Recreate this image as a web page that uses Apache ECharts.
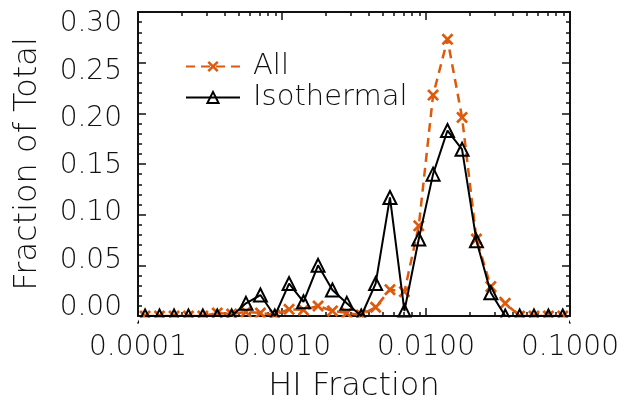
<!DOCTYPE html>
<html>
<head>
<meta charset="utf-8">
<script src="https://cdn.jsdelivr.net/npm/echarts@6/dist/echarts.min.js"></script>
<style>
  html, body { margin: 0; padding: 0; background: #fff; }
  #chart { width: 625px; height: 401px; }
</style>
</head>
<body>
<div id="chart"></div>
<script>
// bin centres of the HI fraction histogram (0.1 dex bins)
var hiFraction = [0.000112, 0.000141, 0.000178, 0.000224, 0.000282, 0.000355, 0.000447, 0.000562, 0.000708, 0.000891,
  0.00112, 0.00141, 0.00178, 0.00224, 0.00282, 0.00355, 0.00447, 0.00562, 0.00708, 0.00891,
  0.0112, 0.0141, 0.0178, 0.0224, 0.0282, 0.0355, 0.0447, 0.0562, 0.0708, 0.0891]
// fraction of total, all gas
var allFrac = [0, 0, 0, 0, 0, 0.003, 0.002, 0.004, 0.003, 0.001,
  0.0066, 0.006, 0.0099, 0.005, 0.003, 0.001, 0.0086, 0.026, 0.024, 0.089,
  0.218, 0.273, 0.196, 0.076, 0.029, 0.0125, 0, 0, 0, 0]
// fraction of total, isothermal gas
var isoFrac = [0, 0, 0, 0, 0, 0, 0, 0.0125, 0.0207, 0,
  0.032, 0.014, 0.050, 0.0257, 0.0125, 0, 0.032, 0.117, 0.005, 0.076,
  0.140, 0.183, 0.1645, 0.0743, 0.023, 0, 0, 0, 0, 0]
var yTickLabels = [0, 0.05, 0.10, 0.15, 0.20, 0.25, 0.30]
var seriesNames = ['All', 'Isothermal']

var ORANGE = '#dc5a0d'
var FONT = 'DejaVu Sans'
var crossPath = 'path://M1.6,0 L5,3.4 L8.4,0 L10,1.6 L6.6,5 L10,8.4 L8.4,10 L5,6.6 L1.6,10 L0,8.4 L3.4,5 L0,1.6 Z'

// minor ticks of the log axis, in log10 space
var minorLog = []
for (var d = -4; d < -1; d++) {
  for (var m = 2; m <= 9; m++) minorLog.push(d + Math.log10(m))
}

function pairs (ys) {
  return ys.map(function (v, i) { return [hiFraction[i], v] })
}

var chart = echarts.init(document.getElementById('chart'), null, { renderer: 'canvas' })

function txt (size) {
  return { fontFamily: FONT, fontWeight: 200, fontSize: size, color: '#111' }
}
var axisLine = { show: true, onZero: false, lineStyle: { color: '#111', width: 2 } }
var noLine = { show: false, onZero: false }
var majorX = { show: true, inside: true, length: 8, lineStyle: { color: '#111', width: 1.5 } }
var minorX = { show: true, inside: true, length: 4, customValues: minorLog, lineStyle: { color: '#111', width: 1.5 } }
var majorY = { show: true, inside: true, length: 8, lineStyle: { color: '#111', width: 1.5 } }
var minorY = { show: true, splitNumber: 5, length: 4, lineStyle: { color: '#111', width: 1.5 } }

chart.setOption({
  animation: false,
  backgroundColor: '#fff',
  grid: { left: 138, right: 55, top: 12, bottom: 85, outerBoundsMode: 'none', containLabel: false },
  legend: {
    orient: 'vertical',
    left: 180,
    top: 47,
    itemWidth: 54,
    itemHeight: 14,
    itemGap: 2,
    data: seriesNames,
    textStyle: Object.assign(txt(29), { lineHeight: 28, padding: [0, 0, 0, 8] })
  },
  xAxis: [
    {
      type: 'log', position: 'bottom', min: 0.0001, max: 0.1, logBase: 10,
      axisLine: axisLine, axisTick: majorX, splitLine: { show: false },
      axisLabel: Object.assign({ margin: 18, formatter: function (v) { return v.toFixed(4) } }, txt(28)),
      name: 'HI Fraction', nameLocation: 'middle', nameGap: 55,
      nameTextStyle: txt(32)
    },
    {
      type: 'value', position: 'bottom', min: -4, max: -1,
      axisLine: noLine, axisTick: minorX, axisLabel: { show: false }, splitLine: { show: false }
    },
    {
      type: 'log', position: 'top', min: 0.0001, max: 0.1, logBase: 10,
      axisLine: axisLine, axisTick: majorX, axisLabel: { show: false }, splitLine: { show: false }
    },
    {
      type: 'value', position: 'top', min: -4, max: -1,
      axisLine: noLine, axisTick: minorX, axisLabel: { show: false }, splitLine: { show: false }
    }
  ],
  yAxis: [
    {
      type: 'value', position: 'left', min: 0, max: 0.3, interval: 0.05,
      axisLine: axisLine, axisTick: majorY, minorTick: minorY,
      axisLabel: { show: false }, splitLine: { show: false }
    },
    {
      type: 'value', position: 'right', min: 0, max: 0.3, interval: 0.05,
      axisLine: axisLine, axisTick: majorY, minorTick: minorY,
      axisLabel: { show: false }, splitLine: { show: false }
    },
    {
      // label-only axis: the labels sit slightly inside the tick range
      type: 'value', position: 'left', min: -0.009, max: 0.3129,
      axisLine: noLine, axisTick: { show: false }, splitLine: { show: false },
      axisLabel: Object.assign({
        show: true, customValues: yTickLabels, margin: 16,
        formatter: function (v) { return v.toFixed(2) }
      }, txt(28)),
      name: 'Fraction of Total', nameLocation: 'middle', nameGap: 94,
      nameTextStyle: txt(32)
    }
  ],
  series: [
    {
      name: seriesNames[0],
      type: 'line',
      xAxisIndex: 0, yAxisIndex: 0,
      data: pairs(allFrac),
      symbol: crossPath,
      symbolSize: 12,
      itemStyle: { color: ORANGE },
      lineStyle: { color: ORANGE, width: 2.5, type: [9, 6] },
      z: 3
    },
    {
      name: seriesNames[1],
      type: 'line',
      xAxisIndex: 0, yAxisIndex: 0,
      data: pairs(isoFrac),
      symbol: 'triangle',
      symbolSize: 13,
      itemStyle: { color: 'rgba(255,255,255,0)', borderColor: '#000', borderWidth: 2 },
      lineStyle: { color: '#000', width: 2 },
      z: 4
    }
  ],
  graphic: [
    {
      // hide the parts of markers that fall below the plot box
      type: 'rect', z: 100,
      shape: { x: 139, y: 317.5, width: 430, height: 10 },
      style: { fill: '#fff' }
    }
  ]
})
</script>
</body>
</html>
